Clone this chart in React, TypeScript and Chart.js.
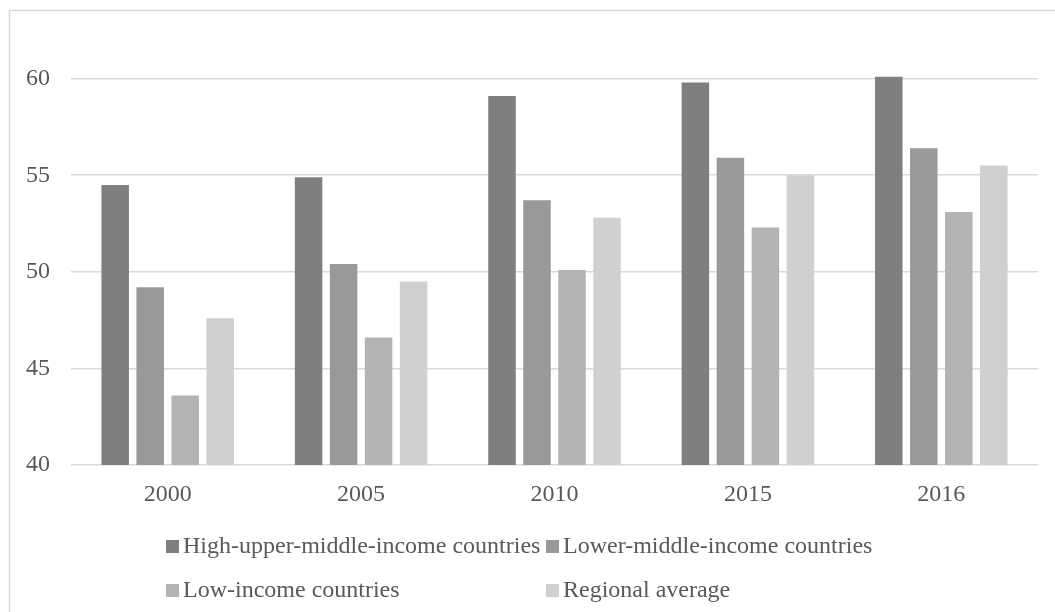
import React, { useEffect, useRef } from "react";
import { Chart, registerables } from "chart.js";

Chart.register(...registerables);

const categories = ["2000", "2005", "2010", "2015", "2016"];
const seriesNames = [
  "High-upper-middle-income countries",
  "Lower-middle-income countries",
  "Low-income countries",
  "Regional average",
];
const highUpperMiddle = [54.5, 54.9, 59.1, 59.8, 60.1];
const lowerMiddle = [49.2, 50.4, 53.7, 55.9, 56.4];
const lowIncome = [43.6, 46.6, 50.1, 52.3, 53.1];
const regionalAverage = [47.6, 49.5, 52.8, 55.0, 55.5];
const seriesColors = ["#7f7f7f", "#999999", "#b3b3b3", "#d0d0d0"];

const FONT = '"Liberation Serif", "Times New Roman", serif';
const TEXT_COLOR = "#595959";
const GRID_COLOR = "#d9d9d9";

// Outer frame of the chart (left and top edges)
const framePlugin = {
  id: "frame",
  beforeDraw(chart: any) {
    const { ctx, width, height } = chart;
    ctx.save();
    ctx.strokeStyle = GRID_COLOR;
    ctx.lineWidth = 1.5;
    ctx.beginPath();
    ctx.moveTo(9.5, height + 2);
    ctx.lineTo(9.5, 10.5);
    ctx.lineTo(width + 2, 10.5);
    ctx.stroke();
    ctx.restore();
  },
};

// Two-column legend below the axis
const legendPlugin = {
  id: "gridLegend",
  afterDraw(chart: any) {
    const { ctx } = chart;
    const colX = [166, 546];
    const rowBase = [553, 597];
    ctx.save();
    ctx.font = `24px ${FONT}`;
    ctx.textBaseline = "alphabetic";
    ctx.textAlign = "left";
    chart.data.datasets.forEach((ds: any, i: number) => {
      const x = colX[i % 2];
      const y = rowBase[Math.floor(i / 2)];
      ctx.fillStyle = ds.backgroundColor;
      ctx.fillRect(x, y - 13, 13, 13);
      ctx.fillStyle = TEXT_COLOR;
      ctx.fillText(ds.label, x + 17, y);
    });
    ctx.restore();
  },
};

export default function App() {
  const canvasRef = useRef<HTMLCanvasElement | null>(null);

  useEffect(() => {
    if (!canvasRef.current) return;
    const values = [highUpperMiddle, lowerMiddle, lowIncome, regionalAverage];
    const chart = new Chart(canvasRef.current, {
      type: "bar",
      data: {
        labels: categories,
        datasets: seriesNames.map((name, i) => ({
          label: name,
          data: values[i],
          backgroundColor: seriesColors[i],
          borderWidth: 0,
          categoryPercentage: 0.724,
          barPercentage: 0.786,
        })),
      },
      options: {
        animation: false,
        responsive: true,
        maintainAspectRatio: false,
        layout: { padding: { left: 0, right: 17, top: 40, bottom: 107 } },
        plugins: {
          legend: { display: false },
          tooltip: { enabled: false },
        },
        scales: {
          x: {
            grid: { display: false, drawTicks: false },
            border: { display: false },
            ticks: {
              color: TEXT_COLOR,
              font: { family: FONT, size: 24 },
              padding: 15,
            },
            afterFit(scale: any) {
              scale.height = 40;
            },
          },
          y: {
            min: 40,
            max: 62,
            grid: { color: GRID_COLOR, lineWidth: 1.5, drawTicks: false },
            border: { display: false },
            ticks: {
              stepSize: 5,
              includeBounds: false,
              color: TEXT_COLOR,
              font: { family: FONT, size: 24 },
              padding: 21,
            },
            afterFit(scale: any) {
              scale.width = 71;
            },
          },
        },
      },
      plugins: [framePlugin, legendPlugin],
    });
    return () => chart.destroy();
  }, []);

  return (
    <div style={{ position: "fixed", left: 0, top: 0, width: 1055, height: 612, background: "#fff" }}>
      <canvas ref={canvasRef} />
    </div>
  );
}
